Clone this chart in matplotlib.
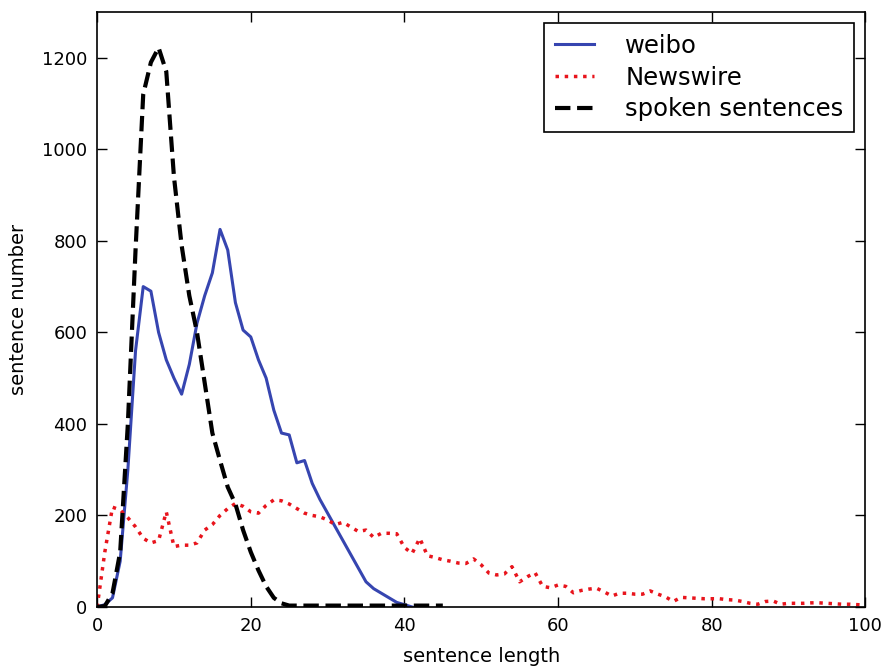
import numpy as np
import matplotlib
matplotlib.use("Agg")
import matplotlib.pyplot as plt

# sentence length vs. number of sentences
weibo_x = list(range(0, 42))
weibo_y = [0, 5, 20, 100, 300, 560, 700, 690, 600, 540, 500, 465,
           530, 620, 680, 730, 825, 780, 665, 605, 590, 540, 500, 430,
           380, 376, 315, 320, 270, 235, 205, 175, 145, 115, 85, 55,
           40, 30, 20, 10, 5, 0]

news_x = list(range(0, 101))
news_y = [0, 120, 218, 212, 195, 175, 150, 140, 145, 208, 132, 135,
          135, 140, 168, 180, 200, 215, 226, 220, 208, 205, 222, 234,
          232, 225, 215, 205, 200, 197, 190, 180, 185, 175, 165, 168,
          152, 161, 161, 160, 130, 117, 150, 112, 108, 103, 100, 96,
          95, 105, 92, 74, 70, 72, 88, 55, 66, 75, 45, 42,
          48, 45, 31, 36, 39, 41, 33, 24, 30, 30, 28, 28,
          35, 28, 22, 12, 21, 20, 19, 18, 18, 18, 16, 15,
          12, 8, 6, 12, 13, 6, 8, 8, 8, 9, 9, 8,
          7, 6, 6, 5, 4]

spoken_x = list(range(0, 46))
spoken_y = [0, 2, 30, 120, 400, 780, 1120, 1190, 1222, 1170, 940, 790,
            680, 600, 490, 380, 320, 262, 225, 168, 120, 80, 45, 20,
            8, 3, 3, 3, 3, 3, 3, 3, 3, 3, 3, 3,
            3, 3, 3, 3, 3, 3, 3, 3, 3, 3]

fig = plt.figure(figsize=(8.83, 6.67), dpi=100)
fig.subplots_adjust(left=0.110, right=0.980, top=0.982, bottom=0.090)
ax = fig.add_subplot(111)

ax.plot(weibo_x, weibo_y, '-', color='#3645b0', lw=2.2, label='weibo')
ax.plot(news_x, news_y, ':', color='#e8141c', lw=2.5, label='Newswire')
ax.plot(spoken_x, spoken_y, '--', color='black', lw=3, label='spoken sentences')

ax.set_xlim(0, 100)
ax.set_ylim(0, 1300)
ax.set_xticks(np.arange(0, 101, 20))
ax.set_yticks(np.arange(0, 1201, 200))
ax.tick_params(direction='in', top=True, right=True, length=7, width=1,
               labelsize=13, pad=7)
for s in ax.spines.values():
    s.set_linewidth(1.2)

ax.set_xlabel('sentence length', fontsize=14, labelpad=9)
ax.set_ylabel('sentence number', fontsize=14, labelpad=10)

leg = ax.legend(loc='upper right', fontsize=17.5, fancybox=False,
                framealpha=1, edgecolor='black', handlelength=1.6,
                borderaxespad=0.45, handletextpad=1.3, borderpad=0.45,
                labelspacing=0.32)
leg.get_frame().set_linewidth(1.2)

plt.savefig('out.png', dpi=100, facecolor='white')
